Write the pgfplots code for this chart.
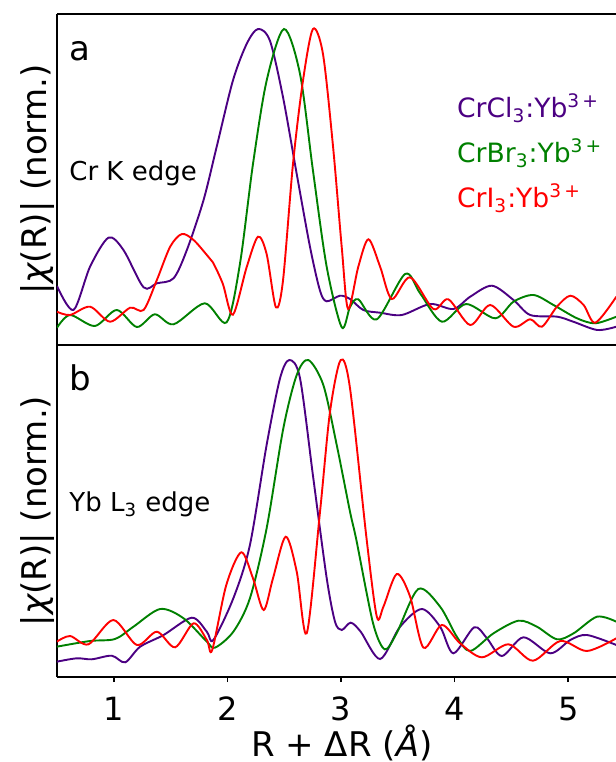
\documentclass[border=0pt]{standalone}
\usepackage{fontspec}
\setmainfont{DejaVu Sans}
\usepackage{pgfplots}
\pgfplotsset{compat=1.18}
\definecolor{cpur}{RGB}{75,0,130}
\definecolor{cgrn}{RGB}{0,128,0}
\definecolor{cred}{RGB}{255,0,0}
\pgfplotsset{
  panel/.style={
    scale only axis, width=279.5pt, xmin=0.5, xmax=5.42, ymin=0,
    axis y line*=left,
    ytick=\empty,
    axis line style={line width=0.8pt},
    every axis plot/.append style={line width=0.95pt, smooth, mark=none},
    /pgf/number format/assume math mode=true,
    ylabel={|{\itshape χ}(R)| (norm.)},
    ylabel style={at={(axis description cs:-0.0179,0.5)}, anchor=base, font=\fontsize{17}{20}\selectfont},
  }
}
\begin{document}
\begin{tikzpicture}
\begin{axis}[panel, at={(0,0)}, anchor=south west, height=166pt, ymax=332,
  xtick={1,2,3,4,5}, xtick pos=left, tick align=outside, major tick length=2.5pt,
  tick style={line width=0.8pt, black},
  xticklabel style={font=\fontsize{16}{18}\selectfont, anchor=base, yshift=-19.3pt},
  xlabel={R + ΔR ({\itshape Å})},
  xlabel style={at={(axis description cs:0.5095,0)}, anchor=base, yshift=-39.8pt, font=\fontsize{17}{20}\selectfont},
]
\addplot[cpur] coordinates {(0.498,15.3)(0.674,18.7)(0.806,17.7)(0.982,21.3)(1.100,14.7)(1.232,30.3)(1.438,42)(1.687,59.3)(1.819,45.3)(1.876,37)(2.052,78.7)(2.198,132)(2.345,232)(2.463,298.7)(2.545,317)(2.639,298.7)(2.756,198.7)(2.874,98.7)(2.947,55.3)(3.006,47)(3.085,54.3)(3.173,45.3)(3.344,18)(3.520,50.3)(3.711,68)(3.872,50.3)(3.989,23.7)(4.172,49.7)(4.284,38.7)(4.416,21)(4.606,39.7)(4.841,23.7)(5.018,37)(5.165,42)(5.423,32)};
\addplot[cgrn] coordinates {(0.498,30.3)(0.791,36)(1.011,38)(1.173,50.3)(1.408,68)(1.614,58.7)(1.819,35.3)(1.890,29.3)(2.052,45.3)(2.198,78.7)(2.345,148.7)(2.492,248.7)(2.610,302)(2.712,317)(2.844,292)(2.962,232)(3.079,165.3)(3.135,137)(3.282,53.7)(3.385,27.7)(3.489,43.7)(3.680,88)(3.872,70.3)(4.019,40.3)(4.137,26)(4.342,43.7)(4.562,56.3)(4.724,50.3)(4.900,37.7)(5.047,43.7)(5.253,60.3)(5.423,55.3)};
\addplot[cred] coordinates {(0.498,35.3)(0.615,41)(0.777,32.7)(0.996,57)(1.203,32)(1.379,45.3)(1.540,29.7)(1.702,53.7)(1.819,37)(1.866,27)(1.990,92)(2.122,124.7)(2.225,98.7)(2.319,67)(2.401,98.7)(2.513,140.3)(2.610,105.3)(2.698,43.7)(2.815,165.3)(2.903,265.3)(2.997,317)(3.079,288.7)(3.226,137)(3.315,60.3)(3.373,70.3)(3.491,103)(3.608,80.3)(3.726,29.3)(3.887,52)(4.048,33.7)(4.240,19.7)(4.474,32.7)(4.689,16.3)(4.930,36)(5.165,26)(5.423,38.7)};
\node[anchor=base west, inner sep=0pt, font=\fontsize{17}{20}\selectfont] at (rel axis cs:0.0215,0.864) {b};
\node[anchor=base west, inner sep=0pt, font=\fontsize{13}{15}\selectfont] at (rel axis cs:0.0215,0.498) {Yb L\textsubscript{3} edge};
\end{axis}
\begin{axis}[panel, at={(0,166pt)}, anchor=south west, height=165.5pt, ymax=331, xtick=\empty]
\addplot[cpur] coordinates {(0.50,59)(0.645,35)(0.791,78.3)(0.953,107.3)(1.085,95)(1.262,57.7)(1.379,61.7)(1.526,66.7)(1.643,95)(1.790,145)(1.905,198)(2.048,264.3)(2.169,301)(2.269,316)(2.374,304.3)(2.489,248)(2.610,171)(2.727,98)(2.815,54.3)(2.874,43.7)(2.991,49.3)(3.079,46)(3.196,35)(3.344,32.3)(3.535,30)(3.784,41)(3.989,36)(4.137,48.3)(4.328,59.3)(4.518,45)(4.665,30)(4.903,28.3)(5.044,23.3)(5.256,15)(5.423,18.3)};
\addplot[cgrn] coordinates {(0.50,17.3)(0.615,30)(0.833,19)(1.026,35)(1.203,18)(1.361,30.7)(1.526,20.7)(1.80,41.7)(1.993,22.7)(2.110,81)(2.225,181)(2.345,264.3)(2.498,316)(2.639,271)(2.753,174.3)(2.874,78)(3.006,17.7)(3.079,38)(3.152,45.7)(3.315,25.7)(3.564,71)(3.696,51.7)(3.887,23.3)(4.10,41)(4.357,26.7)(4.518,43.3)(4.694,50)(4.870,40)(5.077,26.7)(5.238,21.7)(5.423,28.3)};
\addplot[cred] coordinates {(0.50,33.3)(0.615,30)(0.791,38.3)(0.967,23.3)(1.144,37.3)(1.262,35)(1.379,65)(1.496,98.3)(1.599,111)(1.702,105)(1.819,90)(1.872,82.7)(1.960,61)(2.048,30.3)(2.169,77.7)(2.269,108.3)(2.345,91)(2.427,37.7)(2.489,64.3)(2.577,181)(2.665,264.3)(2.753,316)(2.841,291)(2.930,198)(3.006,98)(3.062,36)(3.152,78.3)(3.241,105.7)(3.344,78.3)(3.447,46)(3.608,67.7)(3.813,36)(3.945,45.7)(4.137,20)(4.313,40)(4.518,18.3)(4.665,25.7)(4.768,18.3)(4.900,38.3)(5.018,49.3)(5.135,40)(5.238,22.3)(5.423,48.3)};
\node[anchor=base west, inner sep=0pt, font=\fontsize{17}{20}\selectfont] at (rel axis cs:0.0215,0.861) {a};
\node[anchor=base west, inner sep=0pt, font=\fontsize{13}{15}\selectfont] at (rel axis cs:0.0215,0.498) {Cr K edge};
\node[anchor=base west, inner sep=0pt, font=\fontsize{13.3}{15}\selectfont, text=cpur] at (rel axis cs:0.715,0.686) {CrCl\textsubscript{3}:Yb\textsuperscript{3\,+}};
\node[anchor=base west, inner sep=0pt, font=\fontsize{13.3}{15}\selectfont, text=cgrn] at (rel axis cs:0.715,0.55) {CrBr\textsubscript{3}:Yb\textsuperscript{3\,+}};
\node[anchor=base west, inner sep=0pt, font=\fontsize{13.3}{15}\selectfont, text=cred] at (rel axis cs:0.715,0.414) {CrI\textsubscript{3}:Yb\textsuperscript{3\,+}};
\end{axis}
\pgfresetboundingbox
\path[use as bounding box] (-28.5pt,-42.5pt) rectangle (279.5pt,338.5pt);
\end{tikzpicture}
\end{document}
